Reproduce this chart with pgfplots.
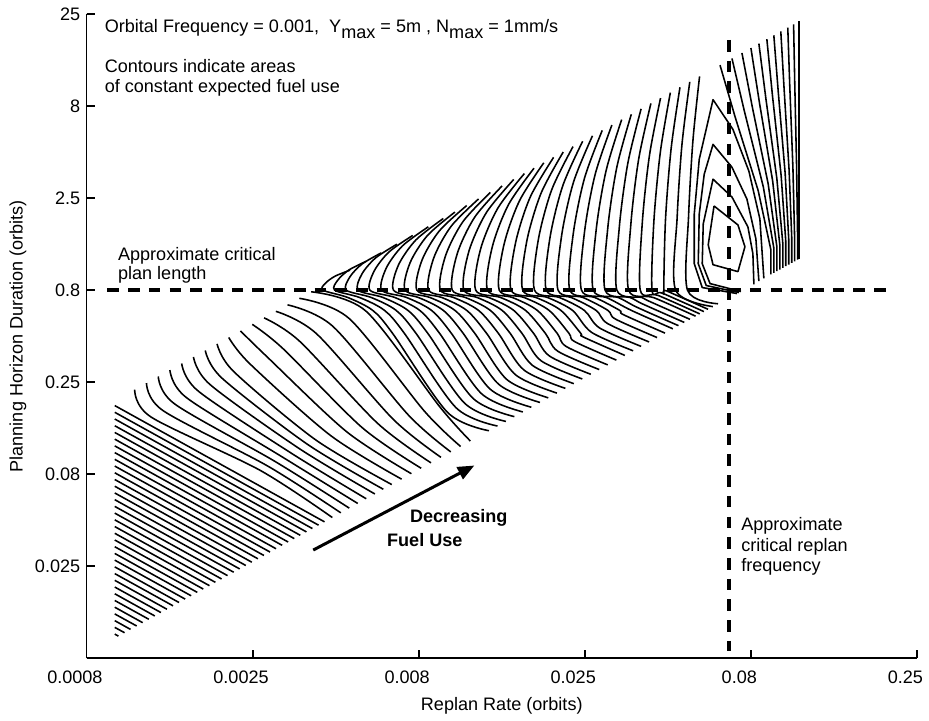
\documentclass[border=0pt]{standalone}
\usepackage{fontspec}
\setmainfont{Liberation Sans}
\usepackage{pgfplots}
\pgfplotsset{compat=1.18}
\usetikzlibrary{arrows.meta}
\pgfplotsset{
  cl/.style={black, line width=0.95pt, smooth, tension=0.5, line join=round},
  cp/.style={black, line width=0.95pt, line join=round},
}
\begin{document}
\fontsize{10.9}{13}\selectfont
\begin{tikzpicture}[font=\fontsize{10.9}{13}\selectfont]
\begin{axis}[
  scale only axis, width=501pt, height=388.8pt,
  xmin=0, xmax=5, ymin=0, ymax=7,
  axis x line*=bottom, axis y line*=left,
  axis line style={line width=1.1pt, -},
  every outer x axis line/.append style={-},
  every outer y axis line/.append style={-},
  tick align=inside,
  major tick length=5pt,
  major tick style={draw=black, line width=1.1pt},
  xtick={0,1,2,3,4,5}, xticklabels={0.0008,0.0025,0.008,0.025,0.08,0.25},
  ytick={1,2,3,4,5,6,7}, yticklabels={0.025,0.08,0.25,0.8,2.5,8,25},
  xticklabel style={xshift=-7pt, yshift=-3.5pt},
  xlabel={Replan Rate (orbits)}, ylabel={Planning Horizon Duration (orbits)},
  xlabel style={at={(axis description cs:0.5,-0.074)}, anchor=center},
  ylabel style={at={(axis description cs:-0.0826,0.5)}, anchor=center},
  clip=false, no markers,
]
\coordinate (O) at (rel axis cs:0,0);
\pgfplotsinvokeforeach{1,2,3,4,5}{\draw[line width=1.1pt] (axis cs:#1,0) -- ++(0,5pt);}
\pgfplotsinvokeforeach{1,2,3,4,5,6,7}{\draw[line width=1.1pt] (axis cs:0,#1) -- ++(5pt,0);}
% ---- lines reaching the left edge
\addplot[cl] coordinates {(0.17,0.264) (0.192,0.242)};
\addplot[cl] coordinates {(0.17,0.337) (0.229,0.279)};
\addplot[cl] coordinates {(0.17,0.410) (0.265,0.315)};
\addplot[cl] coordinates {(0.17,0.483) (0.302,0.352)};
\addplot[cl] coordinates {(0.17,0.556) (0.338,0.388)};
\addplot[cl] coordinates {(0.17,0.629) (0.375,0.425)};
\addplot[cl] coordinates {(0.17,0.702) (0.411,0.461)};
\addplot[cl] coordinates {(0.17,0.775) (0.448,0.498)};
\addplot[cl] coordinates {(0.17,0.848) (0.484,0.534)};
\addplot[cl] coordinates {(0.17,0.921) (0.521,0.571)};
\addplot[cl] coordinates {(0.17,0.994) (0.557,0.607)};
\addplot[cl] coordinates {(0.17,1.067) (0.594,0.644)};
\addplot[cl] coordinates {(0.17,1.140) (0.630,0.680)};
\addplot[cl] coordinates {(0.17,1.213) (0.667,0.717)};
\addplot[cl] coordinates {(0.17,1.286) (0.703,0.753)};
\addplot[cl] coordinates {(0.17,1.359) (0.740,0.790)};
\addplot[cl] coordinates {(0.17,1.432) (0.776,0.826)};
\addplot[cl] coordinates {(0.17,1.505) (0.813,0.863)};
\addplot[cl] coordinates {(0.17,1.578) (0.849,0.899)};
\addplot[cl] coordinates {(0.17,1.651) (0.886,0.936)};
\addplot[cl] coordinates {(0.17,1.724) (0.922,0.972)};
\addplot[cl] coordinates {(0.17,1.797) (0.959,1.009)};
\addplot[cl] coordinates {(0.17,1.870) (0.995,1.045)};
\addplot[cl] coordinates {(0.17,1.943) (1.032,1.082)};
\addplot[cl] coordinates {(0.17,2.016) (1.068,1.118)};
\addplot[cl] coordinates {(0.17,2.089) (1.105,1.155)};
\addplot[cl] coordinates {(0.17,2.162) (1.141,1.191)};
\addplot[cl] coordinates {(0.17,2.235) (1.178,1.228)};
\addplot[cl] coordinates {(0.17,2.308) (1.214,1.264)};
\addplot[cl] coordinates {(0.17,2.381) (1.251,1.301)};
\addplot[cl] coordinates {(0.17,2.454) (1.287,1.337)};
\addplot[cl] coordinates {(0.17,2.527) (1.324,1.374)};
\addplot[cl] coordinates {(0.17,2.600) (1.360,1.410)};
\addplot[cl] coordinates {(0.17,2.673) (1.397,1.447)};
\addplot[cl] coordinates {(0.17,2.746) (1.433,1.483)};
% ---- lines from the upper-left edge
\addplot[cl] coordinates {(0.290,2.920) (0.390,2.620) (1.044,2.044) (1.480,1.530)};
\addplot[cl] coordinates {(0.361,2.991) (0.461,2.691) (1.090,2.090) (1.531,1.581)};
\addplot[cl] coordinates {(0.432,3.062) (0.532,2.762) (1.137,2.137) (1.582,1.632)};
\addplot[cl] coordinates {(0.502,3.132) (0.602,2.832) (1.183,2.183) (1.633,1.683)};
\addplot[cl] coordinates {(0.573,3.203) (0.673,2.903) (1.231,2.231) (1.684,1.734)};
\addplot[cl] coordinates {(0.644,3.274) (0.744,2.974) (1.280,2.280) (1.736,1.786)};
\addplot[cl] coordinates {(0.715,3.345) (0.815,3.045) (1.328,2.328) (1.787,1.837)};
\addplot[cl] coordinates {(0.786,3.416) (0.886,3.116) (1.377,2.377) (1.838,1.888)};
\addplot[cl] coordinates {(0.856,3.486) (0.985,3.197) (1.470,2.420) (1.897,1.947)};
\addplot[cl] coordinates {(0.927,3.557) (1.085,3.279) (1.564,2.465) (1.956,2.006)};
\addplot[cl] coordinates {(0.998,3.628) (1.185,3.361) (1.658,2.509) (2.015,2.065)};
\addplot[cl] coordinates {(1.069,3.699) (1.284,3.443) (1.752,2.554) (2.074,2.124)};
\addplot[cl] coordinates {(1.140,3.770) (1.385,3.526) (1.846,2.598) (2.134,2.184)};
\addplot[cl] coordinates {(1.210,3.840) (1.483,3.607) (1.939,2.641) (2.193,2.243)};
\addplot[cl] coordinates {(1.281,3.911) (1.583,3.689) (2.034,2.686) (2.252,2.302)};
\addplot[cl] coordinates {(1.352,3.982) (1.683,3.771) (2.128,2.730) (2.311,2.361)};
% ---- lines crossing the critical plan length
\addplot[cl] coordinates {(1.587,4.217) (1.497,4.152) (1.439,4.076) (1.423,4.0) (1.573,3.92) (1.723,3.78) (1.843,3.53) (2.173,2.673) (2.423,2.473)};
\addplot[cl] coordinates {(1.682,4.312) (1.579,4.218) (1.513,4.109) (1.494,4.0) (1.644,3.92) (1.794,3.78) (1.914,3.53) (2.224,2.724) (2.474,2.524)};
\addplot[cl] coordinates {(1.775,4.405) (1.659,4.284) (1.585,4.142) (1.564,4.0) (1.714,3.92) (1.864,3.78) (1.984,3.53) (2.275,2.774) (2.525,2.574)};
\addplot[cl] coordinates {(1.869,4.499) (1.740,4.349) (1.658,4.175) (1.635,4.0) (1.785,3.92) (1.935,3.78) (2.055,3.53) (2.326,2.826) (2.576,2.626)};
\addplot[cl] coordinates {(1.964,4.594) (1.822,4.416) (1.732,4.208) (1.706,4.0) (1.856,3.92) (2.006,3.78) (2.126,3.53) (2.377,2.877) (2.627,2.677)};
\addplot[cl] coordinates {(2.058,4.688) (1.903,4.482) (1.805,4.241) (1.777,4.0) (1.927,3.92) (2.077,3.78) (2.197,3.53) (2.428,2.928) (2.678,2.728)};
\addplot[cl] coordinates {(2.148,4.778) (1.983,4.545) (1.878,4.272) (1.848,4.0) (1.998,3.92) (2.148,3.78) (2.268,3.53) (2.480,2.980) (2.730,2.780)};
\addplot[cl] coordinates {(2.218,4.848) (2.053,4.594) (1.948,4.297) (1.918,4.0) (2.068,3.92) (2.218,3.78) (2.338,3.53) (2.530,3.030) (2.780,2.830)};
\addplot[cl] coordinates {(2.289,4.919) (2.124,4.643) (2.019,4.322) (1.989,4.0) (2.139,3.92) (2.289,3.78) (2.409,3.53) (2.582,3.082) (2.832,2.882)};
\addplot[cl] coordinates {(2.360,4.990) (2.195,4.693) (2.090,4.347) (2.060,4.0) (2.210,3.92) (2.360,3.78) (2.480,3.53) (2.633,3.133) (2.883,2.933)};
\addplot[cl] coordinates {(2.431,5.061) (2.266,4.743) (2.161,4.371) (2.131,4.0) (2.281,3.92) (2.431,3.78) (2.551,3.53) (2.684,3.184) (2.934,2.984)};
\addplot[cl] coordinates {(2.502,5.132) (2.337,4.792) (2.232,4.396) (2.202,4.0) (2.352,3.92) (2.502,3.78) (2.622,3.53) (2.735,3.235) (2.985,3.035)};
\addplot[cl] coordinates {(2.572,5.202) (2.407,4.841) (2.302,4.421) (2.272,4.0) (2.422,3.92) (2.572,3.78) (2.692,3.53) (2.786,3.286) (3.036,3.086)};
\addplot[cl] coordinates {(2.636,5.266) (2.475,4.886) (2.372,4.443) (2.343,4.0) (2.493,3.92) (2.643,3.78) (2.763,3.53) (2.837,3.337) (3.087,3.137)};
\addplot[cl] coordinates {(2.694,5.324) (2.540,4.927) (2.442,4.463) (2.414,4.0) (2.564,3.92) (2.714,3.78) (2.834,3.53) (2.888,3.388) (3.138,3.188)};
\addplot[cl] coordinates {(2.753,5.383) (2.606,4.968) (2.512,4.484) (2.485,4.0) (2.635,3.92) (2.785,3.78) (2.905,3.53) (2.940,3.440) (3.190,3.240)};
\addplot[cl] coordinates {(2.812,5.442) (2.671,5.009) (2.582,4.505) (2.556,4.0) (2.706,3.92) (2.856,3.78) (2.976,3.53) (2.991,3.491) (3.241,3.291)};
\addplot[cl] coordinates {(2.870,5.500) (2.736,5.050) (2.650,4.525) (2.626,4.0) (2.776,3.92) (2.926,3.78) (3.041,3.541) (3.291,3.341)};
\addplot[cl] coordinates {(2.929,5.559) (2.801,5.091) (2.720,4.546) (2.697,4.0) (2.847,3.92) (2.997,3.78) (3.089,3.589) (3.339,3.389)};
\addplot[cl] coordinates {(2.987,5.617) (2.867,5.132) (2.790,4.566) (2.768,4.0) (2.918,3.92) (3.068,3.78) (3.137,3.637) (3.387,3.437)};
\addplot[cl] coordinates {(3.046,5.676) (2.932,5.173) (2.860,4.587) (2.839,4.0) (2.989,3.92) (3.139,3.78) (3.185,3.685) (3.435,3.485)};
\addplot[cl] coordinates {(3.105,5.735) (2.998,5.215) (2.930,4.607) (2.910,4.0) (3.060,3.92) (3.210,3.78) (3.233,3.733) (3.483,3.533)};
\addplot[cl] coordinates {(3.163,5.793) (3.062,5.255) (2.998,4.628) (2.980,4.0) (3.130,3.92) (3.280,3.78) (3.530,3.580)};
\addplot[cl] coordinates {(3.222,5.852) (3.128,5.296) (3.068,4.648) (3.051,4.0) (3.201,3.92) (3.314,3.814) (3.564,3.614)};
\addplot[cl] coordinates {(3.280,5.910) (3.193,5.337) (3.138,4.669) (3.122,4.0) (3.272,3.92) (3.349,3.849) (3.599,3.649)};
\addplot[cl] coordinates {(3.339,5.969) (3.259,5.378) (3.208,4.689) (3.193,4.0) (3.343,3.92) (3.383,3.883) (3.633,3.683)};
\addplot[cl] coordinates {(3.398,6.028) (3.324,5.420) (3.277,4.710) (3.264,4.0) (3.417,3.917) (3.667,3.717)};
\addplot[cl] coordinates {(3.456,6.086) (3.389,5.460) (3.346,4.730) (3.334,4.0) (3.442,3.942) (3.692,3.742)};
\addplot[cl] coordinates {(3.515,6.145) (3.455,5.502) (3.416,4.751) (3.405,4.0) (3.467,3.967) (3.717,3.767)};
\addplot[cl] coordinates {(3.573,6.203) (3.520,5.542) (3.486,4.771) (3.476,4.0) (3.492,3.992) (3.742,3.792)};
\addplot[cl] coordinates {(3.632,6.262) (3.585,5.583) (3.556,4.792) (3.547,4.0) (3.771,3.821)};
\addplot[cl] coordinates {(3.691,6.321) (3.651,5.625) (3.625,4.812) (3.618,4.0) (3.802,3.852)};
% ---- nested contours near the critical replan frequency
\addplot[cp] coordinates {(3.916,3.963) (3.707,4.028) (3.659,4.287) (3.659,4.827) (3.689,5.421) (3.772,6.069) (3.892,5.745) (3.988,5.292) (4.054,4.773) (4.078,4.128)};
\addplot[cp] coordinates {(3.928,3.974) (3.731,4.050) (3.683,4.287) (3.689,4.827) (3.719,5.259) (3.772,5.583) (3.886,5.335) (3.976,4.989) (4.030,4.557) (4.048,4.098)};
\addplot[cp] coordinates {(3.940,3.985) (3.754,4.071) (3.707,4.287) (3.713,4.719) (3.772,5.205) (3.886,5.011) (3.982,4.687) (4.012,4.395) (4.018,4.062)};
\addplot[cp] coordinates {(3.778,4.914) (3.922,4.708) (3.964,4.471) (3.922,4.201) (3.772,4.276) (3.743,4.492) (3.778,4.914)};
% ---- lines beyond the critical replan frequency
\addplot[cp] coordinates {(3.814,6.444) (3.906,5.875) (4.044,5.080) (4.120,4.440) (4.120,4.170)};
\addplot[cp] coordinates {(3.886,6.516) (3.962,5.934) (4.075,5.119) (4.138,4.458) (4.138,4.188)};
\addplot[cp] coordinates {(3.946,6.576) (4.009,5.984) (4.104,5.154) (4.156,4.476) (4.156,4.206)};
\addplot[cp] coordinates {(4.000,6.630) (4.052,6.029) (4.131,5.186) (4.174,4.494) (4.174,4.224)};
\addplot[cp] coordinates {(4.048,6.678) (4.091,6.069) (4.156,5.216) (4.192,4.512) (4.192,4.242)};
\addplot[cp] coordinates {(4.096,6.726) (4.130,6.110) (4.182,5.246) (4.210,4.530) (4.210,4.260)};
\addplot[cp] coordinates {(4.138,6.768) (4.165,6.146) (4.206,5.274) (4.228,4.548) (4.228,4.278)};
\addplot[cp] coordinates {(4.180,6.810) (4.200,6.182) (4.230,5.302) (4.246,4.566) (4.246,4.296)};
\addplot[cp] coordinates {(4.222,6.852) (4.234,6.217) (4.253,5.329) (4.263,4.583) (4.263,4.313)};
\addplot[cp] coordinates {(4.257,6.887) (4.264,6.248) (4.275,5.353) (4.281,4.601) (4.281,4.331)};
\addplot[cp] coordinates {(4.291,6.921) (4.291,4.341)};
% ---- critical lines
\addplot[black, line width=2.4pt, dash pattern=on 7pt off 5.5pt] coordinates {(0.126,4) (4.838,4)};
\addplot[black, line width=2.4pt, dash pattern=on 7pt off 5.5pt] coordinates {(3.868,6.717) (3.868,0.08)};
% ---- annotations
\draw[line width=1.8pt, -{Triangle[length=10pt,width=8pt]}] (axis cs:1.365,1.177) -- (axis cs:2.335,2.095);
\node[anchor=base west, inner sep=0pt] at (axis cs:0.108,6.803) {Orbital Frequency = 0.001,\ \ Y\raisebox{-4pt}{max} = 5m , N\raisebox{-4pt}{max} = 1mm/s};
\node[anchor=base west, inner sep=0pt] at (axis cs:0.108,6.364) {Contours indicate areas};
\node[anchor=base west, inner sep=0pt] at (axis cs:0.108,6.148) {of constant expected fuel use};
\node[anchor=base west, inner sep=0pt] at (axis cs:0.188,4.320) {Approximate critical};
\node[anchor=base west, inner sep=0pt] at (axis cs:0.188,4.114) {plan length};
\node[anchor=base west, inner sep=0pt] at (axis cs:3.940,1.390) {Approximate};
\node[anchor=base west, inner sep=0pt] at (axis cs:3.940,1.156) {critical replan};
\node[anchor=base west, inner sep=0pt] at (axis cs:3.940,0.940) {frequency};
\node[anchor=base west, inner sep=0pt, font=\fontsize{10.9}{13}\selectfont\bfseries] at (axis cs:1.946,1.479) {Decreasing};
\node[anchor=base west, inner sep=0pt, font=\fontsize{10.9}{13}\selectfont\bfseries] at (axis cs:1.808,1.220) {Fuel Use};
\end{axis}
\path (O) ++(-52.2pt,-36.6pt) rectangle ++(557.4pt,433.8pt);
\end{tikzpicture}
\end{document}
